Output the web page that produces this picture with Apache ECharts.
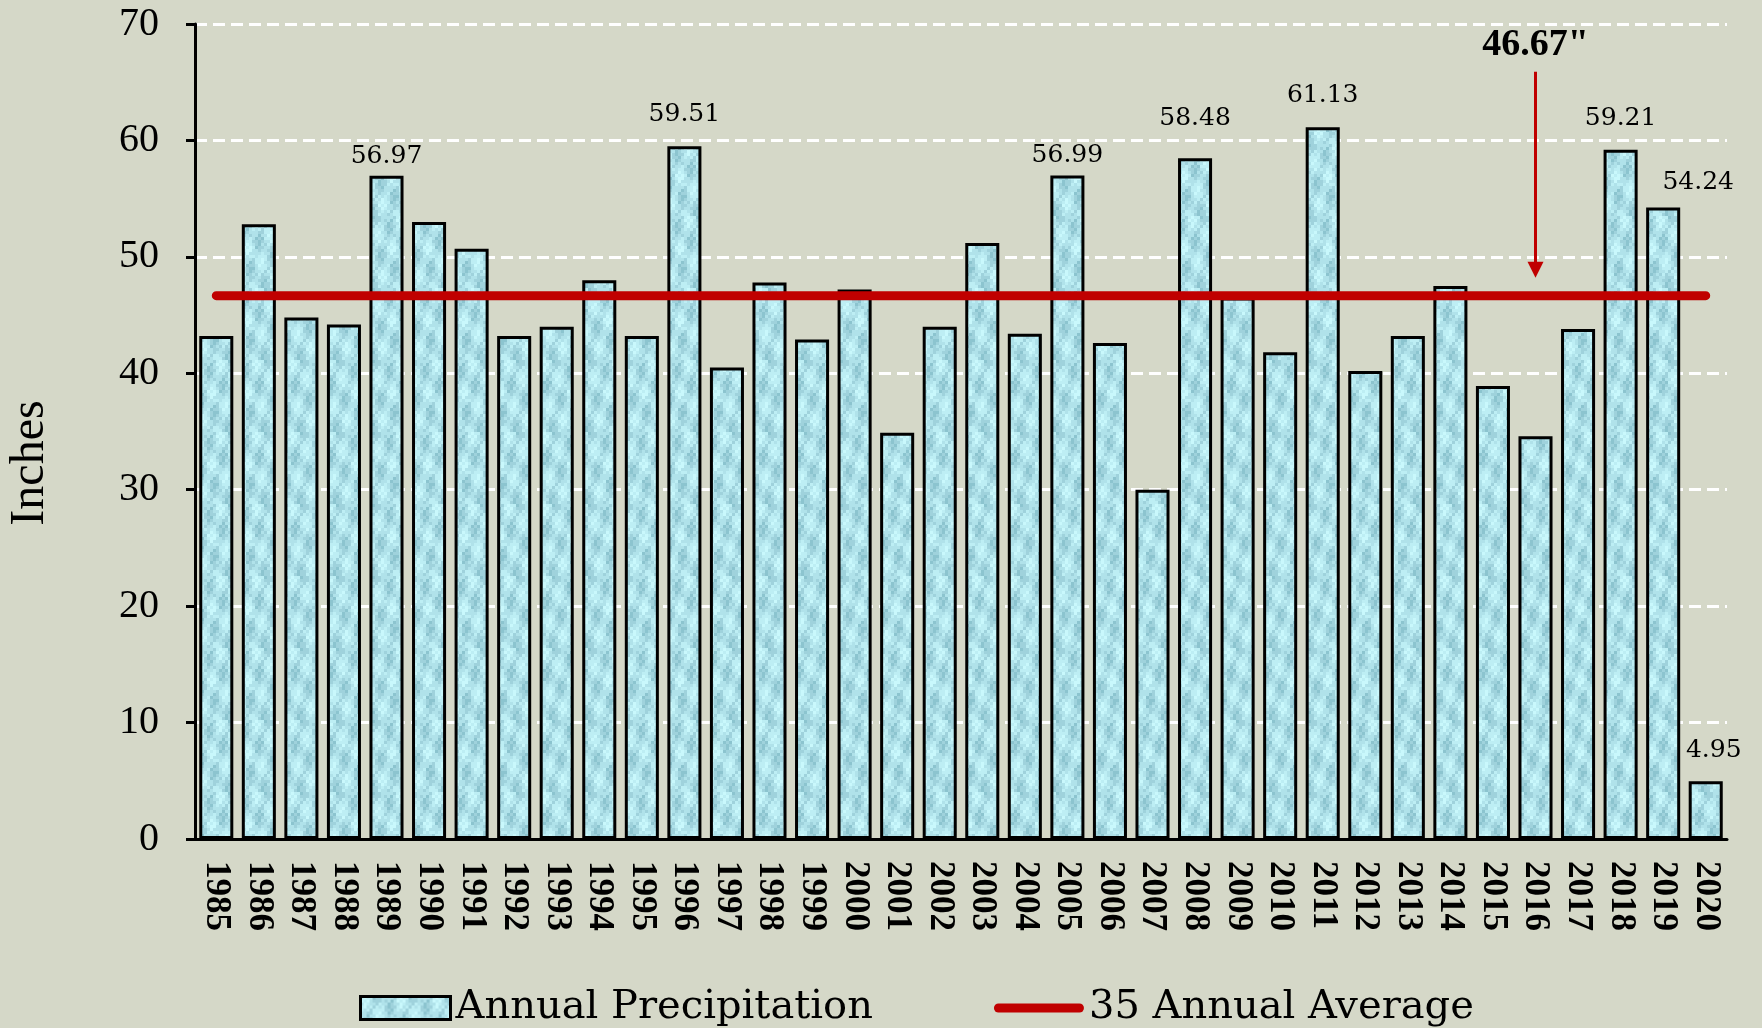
<!DOCTYPE html>
<html>
<head>
<meta charset="utf-8">
<script src="https://cdn.jsdelivr.net/npm/echarts@6/dist/echarts.min.js"></script>
<style>
html,body{margin:0;padding:0;background:#D5D8C8;}
#chart{width:1762px;height:1028px;}
</style>
</head>
<body>
<div id="chart"></div>
<script>
// ---- data ----
const years = ['1985','1986','1987','1988','1989','1990','1991','1992','1993','1994','1995','1996','1997','1998','1999','2000','2001','2002','2003','2004','2005','2006','2007','2008','2009','2010','2011','2012','2013','2014','2015','2016','2017','2018','2019','2020'];
const precipitation = [43.2,52.8,44.8,44.2,56.97,53.0,50.7,43.2,44.0,48.0,43.2,59.51,40.5,47.8,42.9,47.2,34.9,44.0,51.2,43.4,56.99,42.6,30.0,58.48,46.5,41.8,61.13,40.2,43.2,47.5,38.9,34.6,43.8,59.21,54.24,4.95];
const labeledYears = ['1989','1996','2005','2008','2011','2018','2019','2020'];
const averageValue = 46.67;
const averageText = '46.67"';
const arrowYear = '2016';
const arrowFrom = 65.9;
const arrowTo = 48.9;
const arrowTextValue = 68.2;
const seriesNames = ['Annual Precipitation', '35 Annual Average'];
const yMin = 0, yMax = 70, yInterval = 10;

// ---- styles ----
const labelStyle = {
  '1989': {distance: 7, offset: [0, 0]},
  '1996': {distance: 19, offset: [0, 0]},
  '2005': {distance: 7, offset: [0, 0]},
  '2008': {distance: 27, offset: [0, 0]},
  '2011': {distance: 19, offset: [0, 0]},
  '2018': {distance: 19, offset: [0, 0]},
  '2019': {distance: 12, offset: [35, 0]},
  '2020': {distance: 18, offset: [8, 0]}
};

function makeTexture() {
  const c = document.createElement('canvas');
  c.width = 36; c.height = 72;
  const g = c.getContext('2d');
  const cols = ['#8cc4cf', '#9fd2dc', '#b0e2ea', '#bdeef4', '#c9f8fc'];
  const s = 3;
  for (let y = 0; y < c.height; y += s) {
    for (let x = 0; x < c.width; x += s) {
      const v = Math.sin(x * 0.35 + y * 0.11) + Math.cos(y * 0.17 - x * 0.17) + 0.7 * Math.sin((x * 1.3 + y) * 0.7);
      const idx = Math.max(0, Math.min(cols.length - 1, Math.floor((v + 2.7) / 5.4 * cols.length)));
      g.fillStyle = cols[idx];
      g.fillRect(x, y, s, s);
    }
  }
  return c;
}
const texture = makeTexture();

const barData = years.map((y, i) => {
  const item = {value: precipitation[i]};
  if (labeledYears.indexOf(y) >= 0) {
    const st = labelStyle[y] || {distance: 8, offset: [0, 0]};
    item.label = {
      show: true, position: 'top', distance: st.distance, offset: st.offset,
      fontFamily: 'DejaVu Serif', fontSize: 25, color: '#000'
    };
  }
  return item;
});

const lineIcon = 'path://M0,0 M90,23 M4.5,7 L85.5,7 A4.5,4.5 0 0 1 85.5,16 L4.5,16 A4.5,4.5 0 0 1 4.5,7 Z';

const chart = echarts.init(document.getElementById('chart'), null, {renderer: 'canvas'});
chart.setOption({
  backgroundColor: '#D5D8C8',
  animation: false,
  grid: {left: 195, right: 35, top: 24, bottom: 189, containLabel: false},
  legend: {
    left: 354, top: 983,
    itemWidth: 90, itemHeight: 23, itemGap: 121,
    textStyle: {fontFamily: 'DejaVu Serif', fontSize: 40, color: '#000'},
    data: [
      {name: seriesNames[0], icon: 'rect', itemStyle: {color: {image: texture, repeat: 'repeat'}, borderColor: '#000', borderWidth: 3}},
      {name: seriesNames[1], icon: lineIcon, itemStyle: {color: '#C00000', borderWidth: 0}}
    ]
  },
  xAxis: {
    type: 'category',
    data: years,
    boundaryGap: true,
    axisLine: {lineStyle: {color: '#000', width: 3}},
    axisTick: {show: false},
    axisLabel: {rotate: -90, margin: 22, fontFamily: 'Liberation Serif', fontWeight: 'bold', fontSize: 35, color: '#000', interval: 0}
  },
  yAxis: {
    type: 'value',
    min: yMin, max: yMax, interval: yInterval,
    axisLine: {show: true, lineStyle: {color: '#000', width: 3}},
    axisTick: {show: true, length: 9, lineStyle: {color: '#000', width: 3}},
    axisLabel: {margin: 36, fontFamily: 'Liberation Serif', fontSize: 40, color: '#000'},
    splitLine: {show: true, lineStyle: {color: '#ffffff', width: 3, type: [12, 6]}}
  },
  graphic: [{
    type: 'text', x: 30, y: 463, rotation: Math.PI / 2,
    style: {text: 'Inches', fontFamily: 'Liberation Serif', fontSize: 48, fill: '#000', align: 'center', verticalAlign: 'middle'}
  }],
  series: [
    {
      name: seriesNames[0],
      type: 'bar',
      data: barData,
      barCategoryGap: '20%',
      itemStyle: {color: {image: texture, repeat: 'repeat'}, borderColor: '#000', borderWidth: 3},
      z: 2
    },
    {
      name: seriesNames[1],
      type: 'line',
      data: years.map(() => averageValue),
      symbol: 'none',
      itemStyle: {color: '#C00000'},
      lineStyle: {color: '#C00000', width: 9, cap: 'round'},
      z: 3,
      markLine: {
        silent: true,
        symbol: ['none', 'triangle'],
        symbolSize: [16, 16],
        lineStyle: {color: '#C00000', width: 3, type: 'solid'},
        label: {show: false},
        data: [[{coord: [arrowYear, arrowFrom]}, {coord: [arrowYear, arrowTo]}]]
      },
      markPoint: {
        silent: true,
        symbol: 'circle', symbolSize: 1,
        itemStyle: {color: 'rgba(0,0,0,0)'},
        label: {show: true, position: 'inside', formatter: averageText, fontFamily: 'Liberation Serif', fontWeight: 'bold', fontSize: 38, color: '#000'},
        data: [{coord: [arrowYear, arrowTextValue]}]
      }
    }
  ]
});
</script>
</body>
</html>
